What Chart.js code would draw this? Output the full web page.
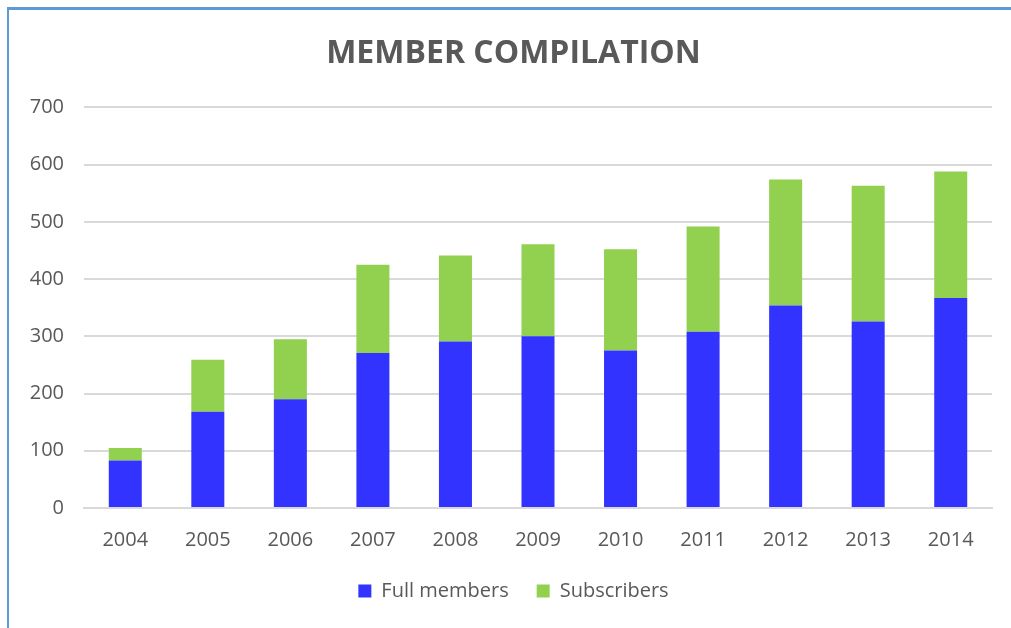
<!DOCTYPE html>
<html>
<head>
<meta charset="utf-8">
<script src="https://cdn.jsdelivr.net/npm/chart.js@4"></script>
<style>
  html, body { margin: 0; padding: 0; background: #fff; }
  #wrap { position: relative; width: 1011px; height: 628px; overflow: hidden; }
  #frame {
    position: absolute; left: 7px; top: 7px; width: 1100px; height: 700px;
    border-left: 2px solid #5b9bd5; border-top: 3px solid #5b9bd5;
  }
  #chart { position: absolute; left: 0; top: 0; }
</style>
</head>
<body>
<div id="wrap">
  <div id="frame"></div>
  <canvas id="chart" width="1011" height="628"></canvas>
</div>
<script>
const years = ['2004', '2005', '2006', '2007', '2008', '2009', '2010', '2011', '2012', '2013', '2014'];
const fullMembers = [83, 168, 190, 271, 291, 300, 275, 308, 354, 326, 367];
const subscribers = [22, 91, 105, 154, 150, 161, 177, 184, 220, 237, 221];

const textColor = '#595959';
const font = '"Open Sans", sans-serif';

new Chart(document.getElementById('chart'), {
  type: 'bar',
  data: {
    labels: years,
    datasets: [
      { label: 'Full members', data: fullMembers, backgroundColor: '#3333ff' },
      { label: 'Subscribers', data: subscribers, backgroundColor: '#92d050' }
    ]
  },
  options: {
    responsive: false,
    animation: false,
    // left padding shifts the title so it is centred on the frame, like the original
    layout: { padding: { left: 16, right: 0, top: 0, bottom: 17 } },
    datasets: { bar: { barPercentage: 0.4, categoryPercentage: 1 } },
    plugins: {
      title: {
        display: true,
        text: 'MEMBER COMPILATION',
        color: textColor,
        font: { family: font, size: 32, weight: 'bold' },
        padding: { top: 35, bottom: 34 }
      },
      legend: {
        position: 'bottom',
        labels: {
          color: textColor,
          font: { family: font, size: 20 },
          boxWidth: 13,
          boxHeight: 13,
          padding: 28
        }
      },
      tooltip: { enabled: false }
    },
    scales: {
      x: {
        stacked: true,
        grid: { display: false, drawTicks: false },
        border: { color: '#d9d9d9', width: 2 },
        ticks: { color: textColor, font: { family: font, size: 20 }, padding: 20 },
        afterFit(scale) { scale.height = 45; }
      },
      y: {
        stacked: true,
        min: 0,
        max: 700,
        ticks: { stepSize: 100, color: textColor, font: { family: font, size: 20 }, padding: 20 },
        grid: { color: '#d9d9d9', lineWidth: 2, drawTicks: false },
        border: { display: false },
        afterFit(scale) { scale.width = 68; }
      },
      // empty right axis, only keeps the plot's right margin
      yRight: {
        position: 'right',
        grid: { display: false, drawTicks: false },
        border: { display: false },
        ticks: { display: false },
        afterFit(scale) { scale.width = 19; }
      }
    }
  }
});
</script>
</body>
</html>
